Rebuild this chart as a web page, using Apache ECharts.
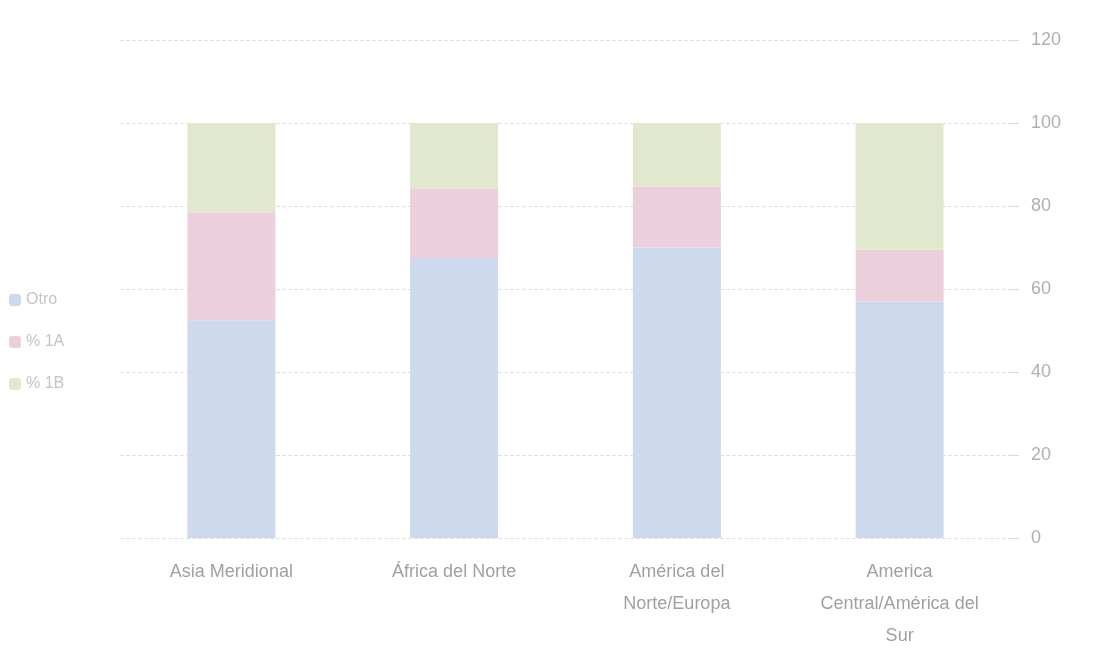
<!DOCTYPE html>
<html>
<head>
<meta charset="utf-8">
<script src="https://cdn.jsdelivr.net/npm/echarts@6/dist/echarts.min.js"></script>
<style>
  html, body { margin: 0; padding: 0; background: #ffffff; }
  #chart { width: 1095px; height: 667px; }
</style>
</head>
<body>
<div id="chart"></div>
<script>
// Regions shown on the category axis
const categories = [
  'Asia Meridional',
  'África del Norte',
  'América del\nNorte/Europa',
  'America\nCentral/América del\nSur'
];

// Stacked shares (%) per region
const seriesNames = ['Otro', '% 1A', '% 1B'];
const shareBlue  = [52.5, 67.5, 70.0, 57.0];
const sharePink  = [26.0, 16.8, 14.7, 12.5];
const shareGreen = [21.5, 15.7, 15.3, 30.5];

// Value axis ticks
const yTicks = [0, 20, 40, 60, 80, 100, 120];

const colors = ['#cdd9ec', '#ebd0dc', '#e1e8cd'];
const textColor = '#a0a0a0';

const chart = echarts.init(document.getElementById('chart'));
const values = [shareBlue, sharePink, shareGreen];

chart.setOption({
  animation: false,
  textStyle: { fontFamily: 'Liberation Sans, Arial, sans-serif' },
  legend: {
    orient: 'vertical',
    left: 4,
    top: 287,
    itemGap: 26,
    itemWidth: 12,
    itemHeight: 12,
    textStyle: { color: '#c4c4c4', fontSize: 16 },
    data: seriesNames
  },
  grid: { left: 120, right: 84, top: 40, bottom: 129 },
  xAxis: {
    type: 'category',
    data: categories,
    axisLine: { show: false },
    axisTick: { show: false },
    axisLabel: {
      color: textColor,
      fontSize: 18,
      lineHeight: 32,
      margin: 18,
      interval: 0
    }
  },
  yAxis: {
    type: 'value',
    position: 'right',
    min: yTicks[0],
    max: yTicks[yTicks.length - 1],
    interval: yTicks[1] - yTicks[0],
    axisLine: { show: false },
    axisTick: { show: true, length: 8, lineStyle: { color: '#d8d8d8' } },
    axisLabel: { color: '#b0b0b0', fontSize: 18, margin: 20 },
    splitLine: { lineStyle: { color: '#e0e0e0', type: 'dashed' } }
  },
  series: seriesNames.map((name, i) => ({
    name: name,
    type: 'bar',
    stack: 'total',
    barWidth: 88,
    data: values[i],
    itemStyle: { color: colors[i] }
  }))
});
</script>
</body>
</html>
